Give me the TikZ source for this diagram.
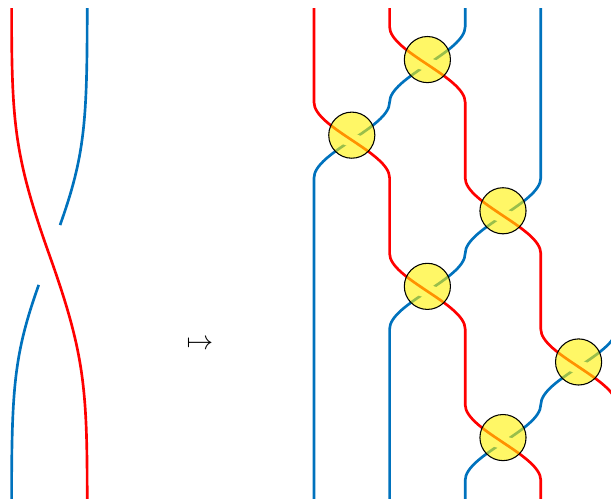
\documentclass[tikz,border=0pt]{standalone}
\usetikzlibrary{calc}
\definecolor{strandred}{RGB}{255,0,0}
\definecolor{strandblue}{RGB}{0,114,189}
\tikzset{
  redstrand/.style={draw=strandred, line width=1pt},
  bluestrand/.style={draw=strandblue, line width=1pt},
  gapband/.style={draw=white, line width=0.18cm},
  ball/.style={circle, draw=black, line width=0.4pt, fill=yellow, fill opacity=0.6, minimum size=0.61cm, inner sep=0pt}
}
\begin{document}
\begin{tikzpicture}
\useasboundingbox (-4.1534,0) rectangle (3.9286,-6.6005);
\clip (-4.1534,0) rectangle (3.9286,-6.6005);

% ---------- left: single crossing ----------
\coordinate (lc) at (-3.5,-3.373);
\coordinate (ltl) at (-4,-0.106);
\coordinate (ltr) at (-3,-0.106);
\coordinate (lbl) at (-4,-6.64);
\coordinate (lbr) at (-3,-6.64);
\draw[bluestrand, shorten >=0.42cm] (ltr) .. controls (-3,-1.606) and (-3.03,-2.054) .. (lc);
\draw[bluestrand, shorten <=0.42cm] (lc) .. controls (-3.97,-4.692) and (-4,-5.14) .. (lbl);
\draw[redstrand] (ltl) .. controls (-4,-1.606) and (-3.97,-2.054) .. (lc)
  .. controls (-3.03,-4.692) and (-3,-5.14) .. (lbr);

% ---------- arrow ----------
\node[anchor=base, inner sep=0pt] (arr) at (-1.508,-4.621) {$\mapsto$};

% ---------- right: resolved crossings ----------
\coordinate (x1) at (1.5,-0.853);
\coordinate (x0) at (0.5,-1.853);
\coordinate (x2) at (2.5,-2.853);
\coordinate (x3) at (1.5,-3.853);
\coordinate (x4) at (3.5,-4.853);
\coordinate (x5) at (2.5,-5.853);

% blue strands
\draw[bluestrand] (2,-0.106) -- (2,-0.353) .. controls (2,-0.6863) and (1,-1.0197) .. (1,-1.353)
  .. controls (1,-1.6863) and (0,-2.0197) .. (0,-2.353) -- (0,-7);
\draw[bluestrand] (3,-0.106) -- (3,-2.353) .. controls (3,-2.6863) and (2,-3.0197) .. (2,-3.353)
  .. controls (2,-3.6863) and (1,-4.0197) .. (1,-4.353) -- (1,-7);
\draw[bluestrand] (4,-0.106) -- (4,-4.353) .. controls (4,-4.6863) and (3,-5.0197) .. (3,-5.353)
  .. controls (3,-5.6863) and (2,-6.0197) .. (2,-6.353) -- (2,-7);

% gaps in the blue strands under the red ones
\foreach \c in {x0,x1,x2,x3,x4,x5}{
  \draw[gapband] ($(\c)+(-0.237,0.079)$) -- ($(\c)+(0.237,-0.079)$);
}

% red strands
\draw[redstrand] (0,-0.106) -- (0,-1.353) .. controls (0,-1.6863) and (1,-2.0197) .. (1,-2.353)
  -- (1,-3.353) .. controls (1,-3.6863) and (2,-4.0197) .. (2,-4.353)
  -- (2,-5.353) .. controls (2,-5.6863) and (3,-6.0197) .. (3,-6.353) -- (3,-7);
\draw[redstrand] (1,-0.106) -- (1,-0.353) .. controls (1,-0.6863) and (2,-1.0197) .. (2,-1.353)
  -- (2,-2.353) .. controls (2,-2.6863) and (3,-3.0197) .. (3,-3.353)
  -- (3,-4.353) .. controls (3,-4.6863) and (4,-5.0197) .. (4,-5.353) -- (4,-7);

% yellow discs
\foreach \c/\n in {x0/b0,x1/b1,x2/b2,x3/b3,x4/b4,x5/b5}{
  \node[ball] (\n) at ($(\c)+(0,0.065)$) {};
}
\end{tikzpicture}
\end{document}
